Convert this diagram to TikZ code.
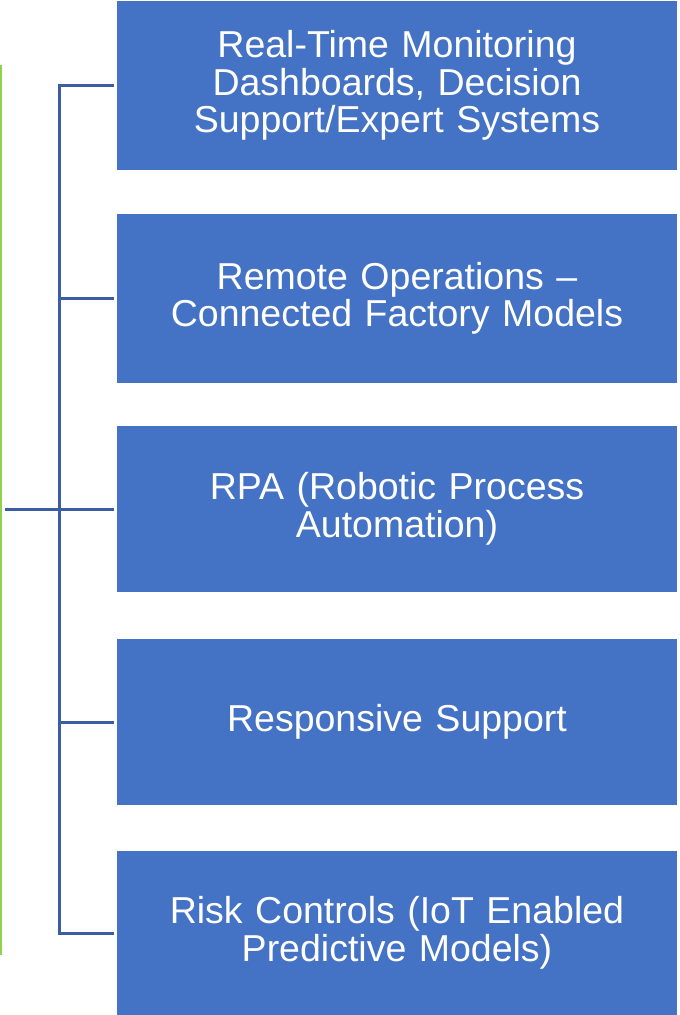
\documentclass[tikz,border=0pt]{standalone}
\usepackage{fontspec}
\setmainfont{Liberation Sans}
\definecolor{boxblue}{HTML}{4472C4}
\definecolor{linkblue}{HTML}{3A5DA3}
\definecolor{railgreen}{HTML}{92D050}
\begin{document}
\begin{tikzpicture}[x=1pt,y=-1pt,
  item/.style={fill=boxblue, draw=none, text=white, minimum width=560pt,
    text width=540pt, align=center, inner sep=0pt,
    font=\fontsize{37.5}{37.5}\selectfont},
  conn/.style={draw=linkblue, line width=3pt},
  rail/.style={draw=railgreen, line width=2.2pt}]
\useasboundingbox (0,0) rectangle (680,1015);

% items
\node[item, minimum height=169pt] (b1) at (397,85.5)
  {Real-Time Monitoring\\Dashboards, Decision\\Support/Expert Systems};
\node[item, minimum height=169pt] (b2) at (397,298.5)
  {Remote Operations –\\Connected Factory Models};
\node[item, minimum height=166pt] (b3) at (397,509)
  {RPA (Robotic Process\\Automation)};
\node[item, minimum height=166pt] (b4) at (397,722)
  {Responsive Support};
\node[item, minimum height=164pt] (b5) at (397,933)
  {Risk Controls (IoT Enabled\\Predictive Models)};

% bracket joining the items
\coordinate (hub) at (59.5,509);
\coordinate (root) at (5,509);
\coordinate (railtop) at (1.1,65);
\coordinate (railbot) at (1.1,955);

\draw[conn, shorten <=3pt] (b1.west) -| (hub);
\draw[conn, shorten <=3pt] (b5.west) -| (hub);
\draw[conn, shorten <=3pt] (b2.west) -- (b2.west -| hub);
\draw[conn, shorten <=3pt] (b3.west) -- (root);
\draw[conn, shorten <=3pt] (b4.west) -- (b4.west -| hub);

% green rail
\draw[rail] (railtop) -- (railbot);
\end{tikzpicture}
\end{document}
